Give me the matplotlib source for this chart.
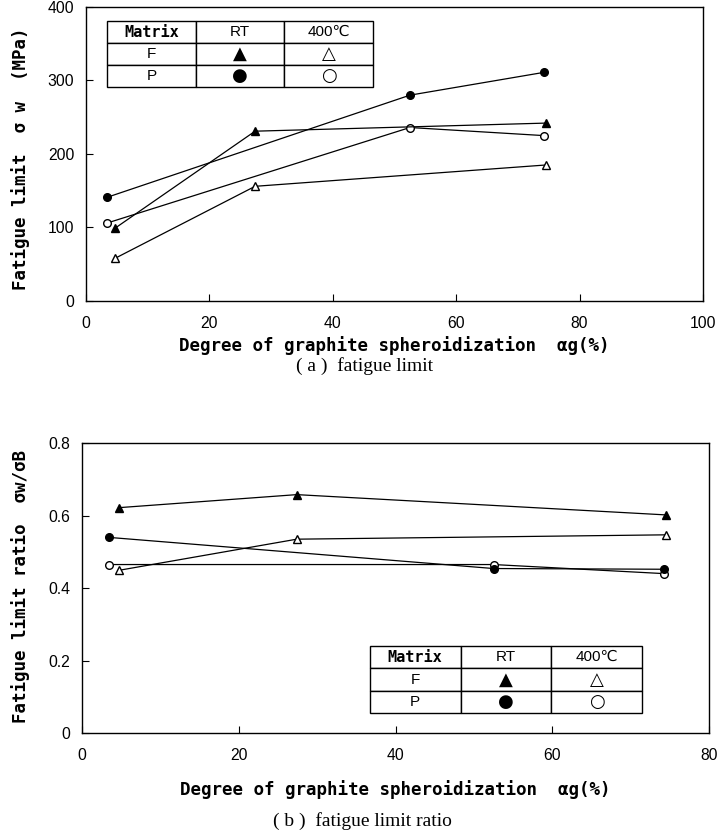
import matplotlib
matplotlib.use('Agg')
import matplotlib.pyplot as plt
from matplotlib.font_manager import FontProperties

plt.rcParams['font.family'] = ['Liberation Sans', 'DejaVu Sans']

# 疲労限度 (a)
ag_F = [4.7, 27.4, 74.5]
ag_P = [3.4, 52.5, 74.2]
sw_F_RT = [99, 231, 242]
sw_F_400 = [58, 156, 185]
sw_P_RT = [141, 280, 311]
sw_P_400 = [106, 236, 225]

# 疲労限度比 (b)
r_F_RT = [0.622, 0.658, 0.602]
r_F_400 = [0.449, 0.535, 0.547]
r_P_RT = [0.540, 0.454, 0.452]
r_P_400 = [0.465, 0.465, 0.440]

table_rows = [['Matrix', 'RT', '400℃'],
              ['F', '▲', '△'],
              ['P', '●', '○']]

mono = {'family': 'DejaVu Sans Mono', 'weight': 'bold', 'size': 12.6}

fig = plt.figure(figsize=(7.17, 8.4), dpi=100)
ax1 = fig.add_axes([0.120, 0.6417, 0.8605, 0.350])
ax2 = fig.add_axes([0.1144, 0.1274, 0.8745, 0.345])


def draw_series(ax, F_RT, F_400, P_RT, P_400):
    kw = dict(color='black', lw=0.9, ms=5.5)
    ax.plot(ag_F, F_400, marker='^', mfc='white', mec='black', **kw)
    ax.plot(ag_P, P_400, marker='o', mfc='white', mec='black', **kw)
    ax.plot(ag_F, F_RT, marker='^', mfc='black', mec='black', **kw)
    ax.plot(ag_P, P_RT, marker='o', mfc='black', mec='black', **kw)


def legend_table(ax, bbox):
    tb = ax.table(cellText=table_rows, cellLoc='center', bbox=bbox)
    tb.auto_set_font_size(False)
    for (r, c), cell in tb.get_celld().items():
        cell.set_linewidth(1.0)
        cell.set_edgecolor('black')
        t = cell.get_text()
        t.set_fontsize(11)
        if r == 0 and c == 0:
            t.set_fontproperties(FontProperties(family='DejaVu Sans Mono',
                                                weight='bold', size=11))
        if r > 0 and c > 0:
            t.set_fontproperties(FontProperties(family='DejaVu Sans', size=13))
    return tb


def style(ax):
    ax.tick_params(direction='in', length=5, width=0.8, labelsize=11.3,
                   top=False, right=False)
    ax.tick_params(axis='x', pad=11)
    ax.tick_params(axis='y', pad=8.5)
    for s in ax.spines.values():
        s.set_linewidth(1.0)


draw_series(ax1, sw_F_RT, sw_F_400, sw_P_RT, sw_P_400)
ax1.set_xlim(0, 100)
ax1.set_ylim(0, 400)
ax1.set_xticks([0, 20, 40, 60, 80, 100])
ax1.set_yticks([0, 100, 200, 300, 400])
style(ax1)
ax1.set_xlabel('Degree of graphite spheroidization  αg(%)', fontdict=mono)
ax1.set_ylabel('Fatigue limit  σ w  (MPa)', fontdict=mono)
ax1.xaxis.set_label_coords(0.50, -0.118)
ax1.yaxis.set_label_coords(-0.091, 0.483)
legend_table(ax1, [0.034, 0.728, 0.431, 0.224])

draw_series(ax2, r_F_RT, r_F_400, r_P_RT, r_P_400)
ax2.set_xlim(0, 80)
ax2.set_ylim(0, 0.8)
ax2.set_xticks([0, 20, 40, 60, 80])
ax2.set_yticks([0, 0.2, 0.4, 0.6, 0.8])
ax2.set_yticklabels(['0', '0.2', '0.4', '0.6', '0.8'])
style(ax2)
ax2.set_xlabel('Degree of graphite spheroidization  αg(%)', fontdict=mono)
ax2.set_ylabel('Fatigue limit ratio  σw/σB', fontdict=mono)
ax2.xaxis.set_label_coords(0.50, -0.162)
ax2.yaxis.set_label_coords(-0.083, 0.507)
legend_table(ax2, [0.459, 0.069, 0.434, 0.231])

fig.text(0.509, 0.564, '( a )  fatigue limit', family='Liberation Serif',
         fontsize=14, ha='center', va='center')
fig.text(0.505, 0.022, '( b )  fatigue limit ratio', family='Liberation Serif',
         fontsize=14, ha='center', va='center')

fig.savefig('out.png', dpi=100)
